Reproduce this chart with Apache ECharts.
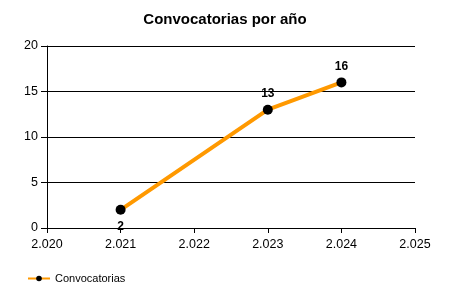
<!DOCTYPE html>
<html>
<head>
<meta charset="utf-8">
<script src="https://cdn.jsdelivr.net/npm/echarts@6/dist/echarts.min.js"></script>
<style>html,body{margin:0;padding:0;background:#fff}#c{width:450px;height:300px}</style>
</head>
<body>
<div id="c"></div>
<script>
var titleText = 'Convocatorias por año';
var seriesName = 'Convocatorias';
var years = [2021, 2023, 2024];
var values = [2, 13, 16];
var xMin = 2020, xMax = 2025, xStep = 1;
var yMin = 0, yMax = 20, yStep = 5;

var FONT = '"Liberation Sans", Arial, sans-serif';
function fmtThousands(v) {
  return String(v).replace(/\B(?=(\d{3})+(?!\d))/g, '.');
}
var data = years.map(function (y, i) {
  return {
    value: [y, values[i]],
    label: { position: i === 0 ? 'bottom' : 'top', distance: i === 0 ? 6 : 5 }
  };
});

var chart = echarts.init(document.getElementById('c'), null, { renderer: 'canvas' });
chart.setOption({
  animation: false,
  backgroundColor: '#ffffff',
  title: {
    text: titleText,
    left: 'center',
    top: 7,
    textStyle: { fontFamily: FONT, fontSize: 15, fontWeight: 'bold', color: '#000' }
  },
  legend: {
    left: 22,
    top: 268,
    itemWidth: 22,
    itemHeight: 7,
    itemGap: 5,
    data: [seriesName],
    textStyle: { fontFamily: FONT, fontSize: 11, color: '#000' }
  },
  grid: { left: 47, right: 35, top: 46, bottom: 72, containLabel: false },
  xAxis: {
    type: 'value',
    min: xMin, max: xMax, interval: xStep,
    axisLine: { show: true, lineStyle: { color: '#000', width: 1 } },
    axisTick: { show: true, length: 5, lineStyle: { color: '#000' } },
    axisLabel: { fontFamily: FONT, fontSize: 12.5, color: '#000', margin: 10, formatter: fmtThousands },
    splitLine: { show: false }
  },
  yAxis: {
    type: 'value',
    min: yMin, max: yMax, interval: yStep,
    axisLine: { show: true, lineStyle: { color: '#000', width: 1 } },
    axisTick: { show: true, length: 6, lineStyle: { color: '#000' } },
    axisLabel: { fontFamily: FONT, fontSize: 12.5, color: '#000', margin: 9 },
    splitLine: { show: true, lineStyle: { color: '#000', width: 1 } }
  },
  series: [{
    name: seriesName,
    type: 'line',
    data: data,
    symbol: 'circle',
    symbolSize: 10,
    itemStyle: { color: '#000' },
    lineStyle: { color: '#FF9900', width: 4 },
    label: {
      show: true,
      fontFamily: FONT, fontSize: 12, fontWeight: 'bold', color: '#000',
      formatter: function (p) { return p.value[1]; }
    },
    emphasis: { disabled: true }
  }]
});
</script>
</body>
</html>
